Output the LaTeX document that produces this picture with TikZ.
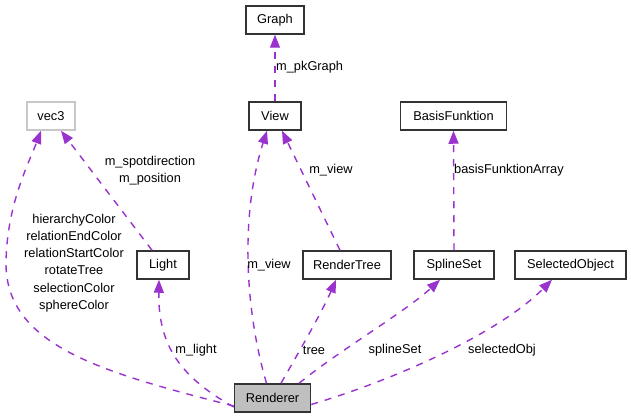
\documentclass[tikz,border=0pt]{standalone}
\usepackage{fontspec}
\setmainfont{Liberation Sans}
\usetikzlibrary{arrows.meta,calc}
\definecolor{edgec}{HTML}{9A32CD}
\definecolor{rengray}{HTML}{BFBFBF}
\definecolor{ghost}{HTML}{C8C8C8}
\begin{document}
\begin{tikzpicture}[x=1pt,y=-1pt,
  every node/.style={font=\fontsize{12.8}{17.3}\selectfont},
  cls/.style={draw=black!80,line width=1.5pt,fill=white,minimum height=28pt,inner sep=0pt,anchor=center},
  ghostcls/.style={cls,draw=ghost},
  usage/.style={draw=edgec,line width=1.4pt,dash pattern=on 7pt off 7pt,-{Triangle[length=13pt,width=10pt,fill=edgec]}},
  lbl/.style={inner sep=0pt,align=center}]
\useasboundingbox (0,0) rectangle (631,419);
% nodes
\node[cls,minimum width=58pt] (graph) at (275,20) {Graph};
\node[ghostcls,minimum width=48pt] (vec) at (51,116) {vec3};
\node[cls,minimum width=52pt] (view) at (275,116) {View};
\node[cls,minimum width=106pt] (basis) at (453.5,116) {BasisFunktion};
\node[cls,minimum width=52pt] (light) at (163,265) {Light};
\node[cls,minimum width=88pt] (rtree) at (347,265) {RenderTree};
\node[cls,minimum width=80pt] (spline) at (454,265) {SplineSet};
\node[cls,minimum width=111pt] (sel) at (570.5,265) {SelectedObject};
\node[cls,fill=rengray,minimum width=76pt] (ren) at (272.5,398) {Renderer};
% edges
\draw[usage] (view.north) -- (graph.south);
\draw[usage] ([xshift=-11pt]light.north) -- ([xshift=10pt]vec.south);
\draw[usage] ([yshift=-8pt]ren.west) .. controls (100,372) and (5,345) .. (6,262) .. controls (7,205) and (28,165) .. ([xshift=-10pt]vec.south);
\draw[usage] ([yshift=-9pt]ren.west) .. controls (180,377) and (158,345) .. ([xshift=-4pt]light.south);
\draw[usage] ([xshift=-6pt]ren.north) .. controls (245,310) and (240,215) .. ([xshift=-8pt]view.south);
\draw[usage] ([xshift=8.5pt]ren.north) .. controls (300,350) and (322,312) .. ([xshift=-11pt]rtree.south);
\draw[usage] ([xshift=-7pt]rtree.north) -- ([xshift=7pt]view.south);
\draw[usage] ([xshift=26.5pt]ren.north) .. controls (340,350) and (405,312) .. ([xshift=-14pt]spline.south);
\draw[usage] (spline.north) -- (basis.south);
\draw[usage] ([yshift=-6.5pt]ren.east) .. controls (400,378) and (500,332) .. ([xshift=-18.5pt]sel.south);
% labels
\node[lbl,anchor=west] (lpk) at (276,67) {m\_pkGraph};
\node[lbl] (lspot) at (150,171) {m\_spotdirection\\m\_position};
\node[lbl] (lcol) at (74,263) {hierarchyColor\\relationEndColor\\relationStartColor\\rotateTree\\selectionColor\\sphereColor};
\node[lbl] (llight) at (196,350) {m\_light};
\node[lbl] (lview1) at (269,265) {m\_view};
\node[lbl] (lview2) at (331,170) {m\_view};
\node[lbl] (ltree) at (314,350) {tree};
\node[lbl] (lspl) at (395,350) {splineSet};
\node[lbl,anchor=west] (lbas) at (454,170) {basisFunktionArray};
\node[lbl] (lsel) at (502,350) {selectedObj};
\end{tikzpicture}
\end{document}
